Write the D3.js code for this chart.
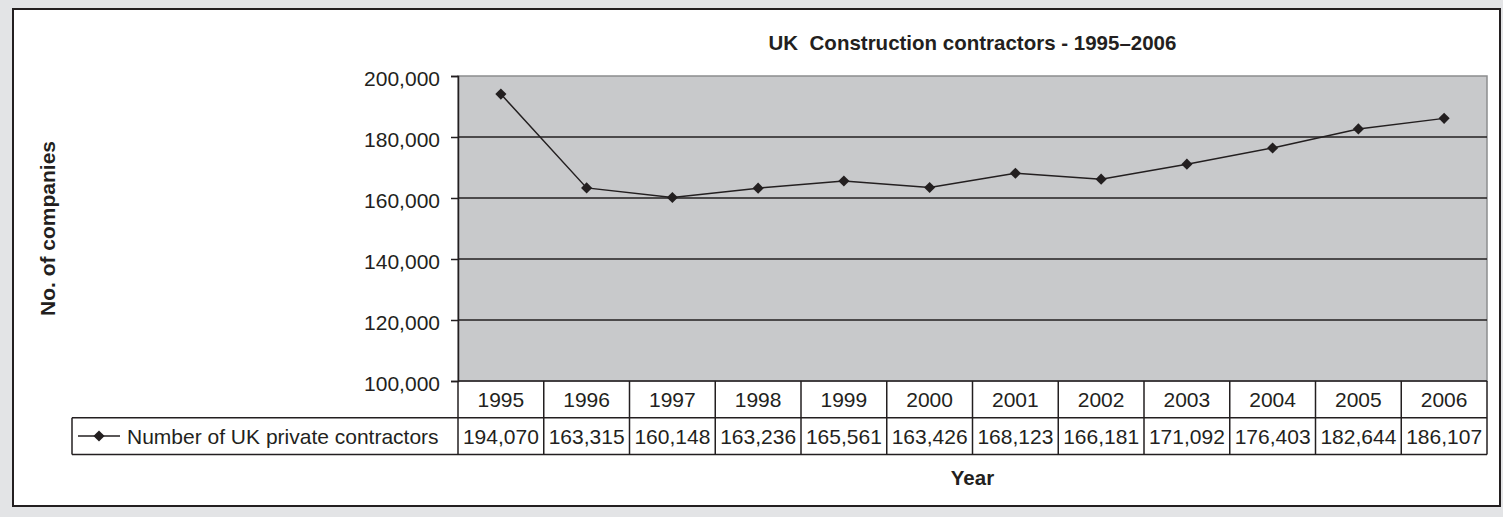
<!DOCTYPE html>
<html>
<head>
<meta charset="utf-8">
<script src="https://cdn.jsdelivr.net/npm/d3@7"></script>
<style>
    body { margin: 0; background: #e3e4e6; }
    text { font-family: "Liberation Sans", Arial, sans-serif; fill: #231f20; }
</style>
</head>
<body>
<div id="my_chart"></div>
<script>
// data
var years = ["1995", "1996", "1997", "1998", "1999", "2000", "2001", "2002", "2003", "2004", "2005", "2006"];
var contractors = [194070, 163315, 160148, 163236, 165561, 163426, 168123, 166181, 171092, 176403, 182644, 186107];
var yTicks = [100000, 120000, 140000, 160000, 180000, 200000];
var seriesName = "Number of UK private contractors";
var chartTitle = "UK  Construction contractors - 1995\u20132006";

var W = 1503, H = 517;
var ink = "#231f20";
var fontSize = 21;
var boldSize = 20.5;

// plot area
var plotLeft = 458, plotRight = 1487, plotTop = 76, plotBottom = 381;
var rowH = 36.7;
var legendLeft = 72;

var svg = d3.select("#my_chart")
    .append("svg")
    .attr("width", W)
    .attr("height", H);

// background frame
svg.append("rect")
    .attr("x", 0).attr("y", 0)
    .attr("width", W).attr("height", H)
    .attr("fill", "#e3e4e6");
svg.append("rect")
    .attr("x", 13).attr("y", 9)
    .attr("width", 1487).attr("height", 497)
    .attr("fill", "#fff")
    .attr("stroke", ink)
    .attr("stroke-width", 2);

// scales
var x = d3.scaleBand()
    .domain(years)
    .range([plotLeft, plotRight])
    .padding(0);

var y = d3.scaleLinear()
    .domain([d3.min(yTicks), d3.max(yTicks)])
    .range([plotBottom, plotTop]);

// plot background
svg.append("rect")
    .attr("x", plotLeft)
    .attr("y", plotTop)
    .attr("width", plotRight - plotLeft)
    .attr("height", plotBottom - plotTop)
    .attr("fill", "#c8c9cb")
    .attr("stroke", "#8c8d8f")
    .attr("stroke-width", 1.5);

// gridlines
svg.append("g")
    .selectAll("line")
    .data(yTicks.filter(function(d) { return d > 100000 && d < 200000; }))
    .enter()
    .append("line")
    .attr("x1", plotLeft)
    .attr("x2", plotRight)
    .attr("y1", function(d) { return y(d); })
    .attr("y2", function(d) { return y(d); })
    .attr("stroke", ink)
    .attr("stroke-width", 1.5);

// y axis
var yAxis = svg.append("g")
    .attr("transform", "translate(" + plotLeft + ",0)")
    .call(d3.axisLeft(y)
        .tickValues(yTicks)
        .tickSize(7)
        .tickPadding(11)
        .tickFormat(d3.format(",")));
yAxis.select(".domain").attr("stroke", ink).attr("stroke-width", 1.5);
yAxis.selectAll(".tick line").attr("stroke", ink).attr("stroke-width", 1.5);
yAxis.selectAll(".tick text")
    .attr("dy", null)
    .attr("y", 9)
    .style("font-size", fontSize + "px")
    .style("font-family", "'Liberation Sans', Arial, sans-serif")
    .attr("fill", ink);

// series line and markers
var line = d3.line()
    .x(function(d, i) { return x(years[i]) + x.bandwidth() / 2; })
    .y(function(d) { return y(d); });

svg.append("path")
    .datum(contractors)
    .attr("d", line)
    .attr("fill", "none")
    .attr("stroke", ink)
    .attr("stroke-width", 1.5);

var marker = d3.symbol().type(d3.symbolSquare).size(62);
svg.append("g")
    .selectAll("path")
    .data(contractors)
    .enter()
    .append("path")
    .attr("d", marker)
    .attr("transform", function(d, i) {
        return "translate(" + (x(years[i]) + x.bandwidth() / 2) + "," + y(d) + ")rotate(45)";
    })
    .attr("fill", ink);

////////// data table //////////

var table = svg.append("g")
    .attr("stroke", ink)
    .attr("stroke-width", 1.5)
    .attr("fill", "none");

var row1 = plotBottom, row2 = plotBottom + rowH, row3 = plotBottom + 2 * rowH;

table.append("line").attr("x1", plotLeft).attr("x2", plotRight).attr("y1", row1).attr("y2", row1);
table.append("line").attr("x1", legendLeft).attr("x2", plotRight).attr("y1", row2).attr("y2", row2);
table.append("line").attr("x1", legendLeft).attr("x2", plotRight).attr("y1", row3).attr("y2", row3);
table.append("line").attr("x1", legendLeft).attr("x2", legendLeft).attr("y1", row2).attr("y2", row3);

// column dividers
table.selectAll(".col")
    .data(years.concat(["end"]))
    .enter()
    .append("line")
    .attr("class", "col")
    .attr("x1", function(d) { return d == "end" ? plotRight : x(d); })
    .attr("x2", function(d) { return d == "end" ? plotRight : x(d); })
    .attr("y1", row1)
    .attr("y2", row3);

// year labels
svg.append("g")
    .selectAll("text")
    .data(years)
    .enter()
    .append("text")
    .attr("x", function(d) { return x(d) + x.bandwidth() / 2; })
    .attr("y", (row1 + row2) / 2 + 7.5)
    .attr("text-anchor", "middle")
    .style("font-size", fontSize + "px")
    .text(function(d) { return d; });

// value labels
svg.append("g")
    .selectAll("text")
    .data(contractors)
    .enter()
    .append("text")
    .attr("x", function(d, i) { return x(years[i]) + x.bandwidth() / 2; })
    .attr("y", (row2 + row3) / 2 + 7.5)
    .attr("text-anchor", "middle")
    .style("font-size", fontSize + "px")
    .text(function(d) { return d3.format(",")(d); });

// legend key in the table
var keyY = (row2 + row3) / 2;
svg.append("line")
    .attr("x1", 78).attr("x2", 120)
    .attr("y1", keyY).attr("y2", keyY)
    .attr("stroke", ink)
    .attr("stroke-width", 1.5);
svg.append("path")
    .attr("d", marker)
    .attr("transform", "translate(99," + keyY + ")rotate(45)")
    .attr("fill", ink);
svg.append("text")
    .attr("x", 127)
    .attr("y", keyY + 7.5)
    .style("font-size", fontSize + "px")
    .text(seriesName);

////////// titles //////////

svg.append("text")
    .attr("x", (plotLeft + plotRight) / 2)
    .attr("y", 50)
    .attr("text-anchor", "middle")
    .style("font-size", boldSize + "px")
    .style("font-weight", "bold")
    .style("white-space", "pre")
    .text(chartTitle);

svg.append("text")
    .attr("x", (plotLeft + plotRight) / 2)
    .attr("y", 485)
    .attr("text-anchor", "middle")
    .style("font-size", boldSize + "px")
    .style("font-weight", "bold")
    .text("Year");

svg.append("text")
    .attr("transform", "translate(55," + 228.5 + ")rotate(-90)")
    .attr("text-anchor", "middle")
    .style("font-size", fontSize + "px")
    .style("font-weight", "bold")
    .text("No. of companies");
</script>
</body>
</html>
